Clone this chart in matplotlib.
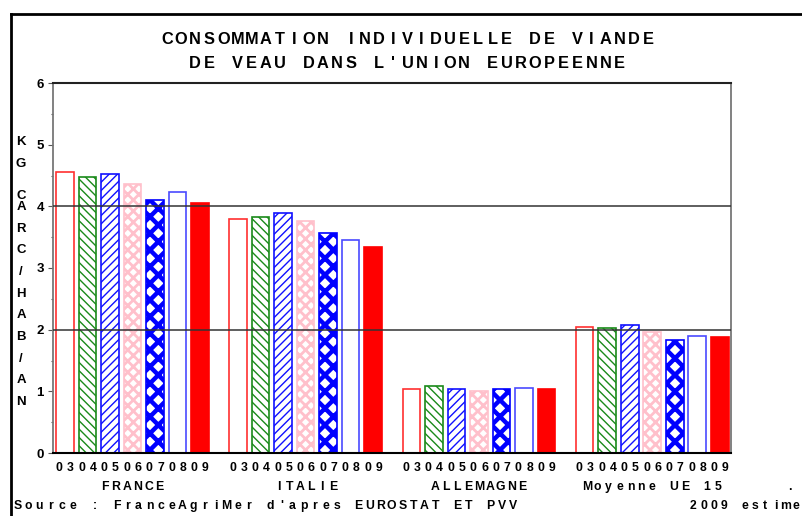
import numpy as np
import matplotlib
matplotlib.use("Agg")
import matplotlib.pyplot as plt
from matplotlib.transforms import offset_copy, blended_transform_factory
from matplotlib.lines import Line2D

plt.rcParams['font.family'] = ['Liberation Sans', 'DejaVu Sans']
plt.rcParams['font.weight'] = 'bold'

# data
years = ['03', '04', '05', '06', '07', '08', '09']
countries = ['FRANCE', 'ITALIE', 'ALLEMAGNE', 'Moyenne UE 15']
france = [4.55, 4.47, 4.52, 4.37, 4.10, 4.23, 4.05]
italie = [3.79, 3.82, 3.90, 3.77, 3.56, 3.45, 3.34]
allemagne = [1.03, 1.09, 1.04, 1.00, 1.04, 1.06, 1.04]
ue15 = [2.04, 2.02, 2.07, 1.96, 1.84, 1.90, 1.88]
values = [france, italie, allemagne, ue15]

title = ["CONSOMMATION INDIVIDUELLE DE VIANDE", "DE VEAU DANS L'UNION EUROPEENNE"]
ylab = "KGCARC/HAB/AN"
ylab_slots = [0, 1, 2.5, 3, 4, 5, 6, 7, 8, 9, 10, 11, 12]
source = "Source : FranceAgriMer d'apres EUROSTAT ET PVV"
note = "2009 estime"

# style per year: (face, edge, hatch, hatch lw)
styles = [
    ('white', '#ff3030', None, 1.0),
    ('white', '#1a8a1a', '\\\\\\\\', 1.0),
    ('white', '#1010ff', '////', 1.0),
    ('white', '#ffc0cb', 'xxx', 2.0),
    ('white', '#0000ff', 'xx', 3.2),
    ('white', '#4a4aff', None, 1.0),
    ('#ff0000', '#ff0000', None, 1.0),
]

W, H = 802, 516
fig = plt.figure(figsize=(W / 100, H / 100), dpi=100)
ax = fig.add_axes([53 / W, 1 - 453 / H, (731 - 53) / W, (453 - 83) / H])

group_step = 7.7
width = 0.78
for g, vals in enumerate(values):
    for i, v in enumerate(vals):
        fc, ec, hatch, hlw = styles[i]
        b = ax.bar(g * group_step + i, v, width, facecolor=fc, edgecolor=ec,
                   hatch=hatch, linewidth=1.2, zorder=2)
        for p in b.patches:
            if hasattr(p, 'set_hatch_linewidth'):
                p.set_hatch_linewidth(hlw)

ax.set_xlim(-0.527, 29.6)
ax.set_ylim(0, 6)
for yv in [2, 4]:
    ax.axhline(yv, color='#333333', lw=1.1, zorder=3)

ax.set_yticks(range(7))
ax.set_yticks(np.arange(0.5, 6, 1), minor=True)
ax.tick_params(axis='y', which='major', length=3.5, width=0.8, pad=3,
               labelsize=9.5, color='#555555')
ax.tick_params(axis='y', which='minor', length=1.8, width=0.8, color='#555555')
ax.set_xticks([])
for s in ['left', 'right']:
    ax.spines[s].set_color('#777777')
    ax.spines[s].set_linewidth(1.3)
ax.spines['top'].set_color('#222222')
ax.spines['top'].set_linewidth(1.5)
ax.spines['bottom'].set_color('black')
ax.spines['bottom'].set_linewidth(1.5)
for lab in ax.get_yticklabels():
    lab.set_fontweight('bold')


def spaced(x, y, s, pitch, trans, size):
    # fixed-pitch text, one glyph per cell
    n = len(s)
    for k, ch in enumerate(s):
        if ch == ' ':
            continue
        dx = (k - (n - 1) / 2) * pitch
        fig.text(x, y, ch, transform=offset_copy(trans, fig=fig, x=dx, y=0, units='dots'),
                 ha='center', va='center', fontsize=size, fontweight='bold')


ff = fig.transFigure
# title
spaced(407.5 / W, 1 - 39 / H, title[0], 14.15, ff, 11.8)
spaced(407.5 / W, 1 - 63 / H, title[1], 14.15, ff, 11.8)

# year labels under bars, country names
bt = blended_transform_factory(ax.transData, ff)
for g in range(len(countries)):
    for i, yr in enumerate(years):
        spaced(g * group_step + i, 1 - 468 / H, yr, 11.2, bt, 8.8)
    spaced(g * group_step + 3, 1 - 487 / H, countries[g], 10.9, bt, 8.8)

fig.text(790 / W, 1 - 487 / H, '.', ha='center', va='center', fontsize=8.8, fontweight='bold')

# source line
spaced((12 + 46 * 11.0 / 2) / W, 1 - 506 / H, source, 11.0, ff, 8.8)
spaced((688 + 11 * 10.3 / 2) / W, 1 - 506 / H, note, 10.3, ff, 8.8)

# vertical y label
for ch, sl in zip(ylab, ylab_slots):
    fig.text(21 / W, 1 - (142 + sl * 21.65) / H, ch, ha='center', va='center',
             fontsize=9.5, fontweight='bold')

# frame
fig.add_artist(Line2D([11 / W, 11 / W], [0, 1 - 14 / H], transform=ff, color='black', lw=2))
fig.add_artist(Line2D([11 / W, 1], [1 - 14 / H, 1 - 14 / H], transform=ff, color='black', lw=2))

fig.savefig('out.png', dpi=100)
